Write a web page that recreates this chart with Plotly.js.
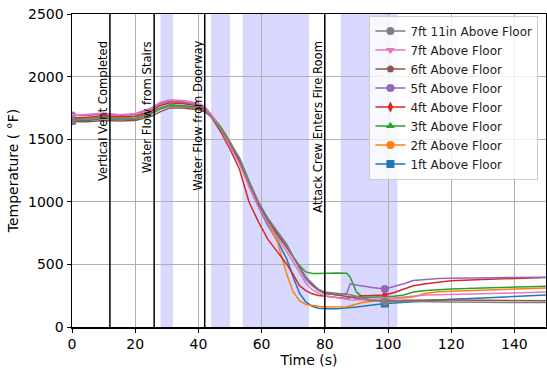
<!DOCTYPE html>
<html><head><meta charset="utf-8">
<script src="https://cdn.plot.ly/plotly-3.0.1.min.js"></script>
<style>html,body{margin:0;padding:0;background:#fff}#chart{width:547px;height:371px}</style>
</head><body><div id="chart"></div>
<script>
const time = [0,5,10,15,20,25,28,31,35,40,42,44,47,50,53,56,59,62,65,68,70,72,74,76,78,80,84,87,88,90,92,95,99,102,105,108,112,116,120,130,140,150];

const ft1 = [1650,1650,1665,1655,1660,1700,1745,1770,1765,1750,1740,1690,1580,1460,1320,1130,960,810,690,540,400,270,200,165,150,145,145,150,155,160,165,175,188,192,197,202,210,215,222,232,242,255];
const ft2 = [1660,1665,1680,1670,1680,1720,1770,1800,1795,1775,1760,1700,1600,1480,1340,1150,980,820,680,420,280,210,180,170,165,160,160,162,170,185,195,205,220,225,230,240,270,282,285,295,305,312];
const ft3 = [1660,1660,1675,1665,1670,1710,1750,1775,1770,1755,1740,1690,1600,1480,1350,1170,1000,820,730,640,560,490,440,428,428,430,432,430,400,280,238,238,240,245,255,280,292,300,303,312,320,325];
const ft4 = [1670,1675,1690,1680,1685,1725,1770,1790,1785,1765,1745,1680,1560,1420,1260,1000,840,700,600,500,420,330,290,265,252,248,236,228,235,245,250,252,255,275,300,330,345,360,370,380,390,395];
const ft5 = [1690,1690,1705,1690,1700,1740,1785,1805,1800,1775,1750,1690,1580,1460,1330,1150,990,860,750,650,560,470,380,330,290,268,255,270,345,335,325,315,303,322,345,372,382,388,390,392,396,398];
const ft6 = [1640,1640,1650,1645,1650,1680,1720,1750,1750,1735,1720,1680,1570,1460,1330,1150,980,850,740,640,560,480,400,340,300,272,258,245,240,230,220,212,210,210,213,215,215,215,215,212,210,210];
const ft7 = [1690,1700,1710,1695,1705,1750,1795,1815,1810,1790,1760,1700,1580,1440,1300,1120,960,830,720,600,520,430,350,300,270,250,232,222,218,215,215,220,225,232,238,245,255,258,262,266,272,280];
const ft7_11 = [1650,1660,1670,1660,1665,1700,1740,1765,1760,1745,1730,1680,1580,1470,1350,1160,1000,870,760,660,560,470,400,350,300,280,270,262,258,245,230,215,202,205,205,202,200,200,200,197,196,195];

const seriesNames = ['1ft Above Floor','2ft Above Floor','3ft Above Floor','4ft Above Floor','5ft Above Floor','6ft Above Floor','7ft Above Floor','7ft 11in Above Floor'];
const seriesValues = [ft1, ft2, ft3, ft4, ft5, ft6, ft7, ft7_11];
const seriesColors = ['#1f77b4','#ff7f0e','#2ca02c','#d62728','#9467bd','#8c564b','#e377c2','#7f7f7f'];
const seriesSymbols = ['square','circle','triangle-up','diamond-tall','circle','pentagon','triangle-down','circle'];
const markerTimes = [0, 99];

const eventTimes = [12, 26, 42, 80];
const eventLabels = ['Vertical Vent Completed','Water Flow from Stairs','Water Flow from Doorway','Attack Crew Enters Fire Room'];
const bandStarts = [28, 44, 54, 85];
const bandEnds = [32, 50, 75, 103];

const markIdx = markerTimes.map(t => time.indexOf(t));
const traces = seriesValues.map((vals, i) => ({
  type: 'scatter', mode: 'lines+markers', name: seriesNames[i],
  x: time, y: vals,
  line: {color: seriesColors[i], width: 1.5},
  marker: {color: seriesColors[i], symbol: seriesSymbols[i], size: 8},
  selectedpoints: markIdx,
  selected: {marker: {opacity: 1}},
  unselected: {marker: {opacity: 0}}
}));

const shapes = [];
bandStarts.forEach((s, i) => shapes.push({type:'rect', xref:'x', yref:'paper', x0:s, x1:bandEnds[i], y0:0, y1:1, fillcolor:'rgba(0,0,255,0.15)', line:{width:0}, layer:'below'}));
eventTimes.forEach(t => shapes.push({type:'line', xref:'x', yref:'paper', x0:t, x1:t, y0:0, y1:1, line:{color:'black', width:1.5}, layer:'above'}));

const annotations = eventTimes.map((t, i) => ({
  x: t, y: 2300, xref:'x', yref:'y', text: eventLabels[i], showarrow:false,
  textangle:-90, xanchor:'right', yanchor:'top', xshift: 2,
  font:{family:'DejaVu Sans', size:11.6, color:'black'}
}));

const layout = {
  width:547, height:371,
  margin:{l:72, r:1, t:14, b:44},
  paper_bgcolor:'white', plot_bgcolor:'white',
  font:{family:'DejaVu Sans', size:14, color:'black'},
  showlegend:true,
  legend:{x:0.984, y:0.995, xanchor:'right', yanchor:'top', traceorder:'reversed',
    bgcolor:'rgba(255,255,255,0.8)', bordercolor:'#cccccc', borderwidth:1,
    font:{family:'DejaVu Sans', size:12, color:'#222'}, itemwidth:30, tracegroupgap:0},
  xaxis:{range:[0,150], tickvals:[0,20,40,60,80,100,120,140], showgrid:true, gridcolor:'#b0b0b0', gridwidth:1,
    showline:true, mirror:true, linecolor:'black', linewidth:1.5, ticks:'outside', ticklen:4, tickcolor:'black',
    zeroline:false, title:{text:'Time (s)', font:{size:14}, standoff:4}, tickfont:{size:14}},
  yaxis:{range:[0,2500], tickvals:[0,500,1000,1500,2000,2500], showgrid:true, gridcolor:'#b0b0b0', gridwidth:1,
    showline:true, mirror:true, linecolor:'black', linewidth:1.5, ticks:'outside', ticklen:4, tickcolor:'black',
    zeroline:false, title:{text:'Temperature ( °F)', font:{size:14}, standoff:6}, tickfont:{size:14}},
  shapes: shapes,
  annotations: annotations
};
Plotly.newPlot('chart', traces, layout, {staticPlot:true, displayModeBar:false});
</script></body></html>
